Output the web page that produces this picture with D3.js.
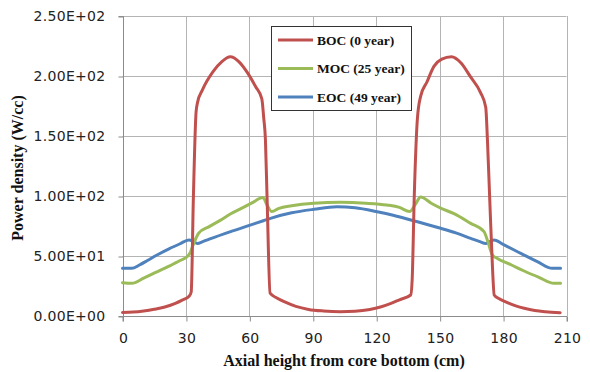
<!DOCTYPE html>
<html>
<head>
<meta charset="utf-8">
<script src="https://cdn.jsdelivr.net/npm/d3@7"></script>
<style>
  html, body { margin: 0; padding: 0; background: #fff; }
  svg { display: block; }
</style>
</head>
<body>
<svg id="chart" width="590" height="372"></svg>
<script>
// ---- Data ----
const xTicks = [0, 30, 60, 90, 120, 150, 180, 210];
const yTicks = [0, 50, 100, 150, 200, 250];
const yTickLabels = ["0.00E+00", "5.00E+01", "1.00E+02", "1.50E+02", "2.00E+02", "2.50E+02"];
const seriesNames = ["BOC (0 year)", "MOC (25 year)", "EOC (49 year)"];

const bocHeight = [0, 5, 10, 15, 20, 25, 28, 31.5, 32.5, 33.5, 34.8, 35.5, 37.7, 43, 47, 51, 55, 59, 63, 65.9, 66.8, 67.6, 68.4, 69.8, 73, 77, 82, 88, 95, 103, 110, 117, 122, 127, 131, 136.3, 137, 138, 139.5, 141, 144, 147.3, 151, 155.6, 160, 164.7, 169.4, 171.8, 172.6, 173.7, 175, 175.8, 178, 181, 186, 190, 195, 200, 207];
const bocPower  = [3, 3.3, 4.2, 5.6, 7.5, 10.5, 13, 16.5, 20, 97, 170, 178, 188, 204, 212, 216, 212, 203, 191, 181, 165, 147, 97, 19, 15, 11.5, 8, 5.5, 4.2, 3.6, 4, 5.5, 7.5, 10.5, 13.5, 17.5, 30, 100, 165, 183, 195, 208, 214, 216, 211, 199, 186, 174, 147, 97, 40, 17.5, 14.5, 12, 8.5, 6.4, 4.5, 3.5, 2.8];

const mocHeight = [0, 4.4, 10, 16, 22, 27, 30.9, 32.2, 33.4, 34.8, 36, 41, 46, 51, 56, 61, 66.4, 68.5, 70.6, 74, 80, 90.5, 103, 115, 125, 131, 135.8, 138.5, 141, 146, 151, 156.8, 164.7, 171, 172.8, 175, 177.3, 184, 190, 197, 204.1, 207.2];
const mocPower  = [27.8, 27.2, 31.5, 36.5, 41.5, 46, 50, 53.5, 59.2, 65, 69, 74.5, 79.5, 85, 89.5, 94, 98.7, 92, 87, 89.7, 91.8, 93.9, 94.7, 94, 92.5, 90.5, 87, 93, 99.2, 94, 89.5, 85.3, 77.2, 70.3, 62, 50.8, 48, 42.5, 37.5, 32.2, 27.2, 27.2];

const eocHeight = [0, 4.4, 8, 12, 17, 22, 27, 31.4, 33.4, 35.4, 38, 41, 51.1, 60, 66.6, 70, 80, 90.6, 101.4, 110, 120.5, 128, 137.6, 150.5, 158, 164.7, 169, 171.8, 173.8, 175.7, 180.5, 188.4, 196.2, 203.3, 207.2];
const eocPower  = [39.7, 39.7, 42.5, 46.5, 51.5, 56, 60, 63.3, 62.3, 60.5, 62, 64, 70.3, 75.5, 79.4, 81.4, 86, 88.9, 91, 90.2, 86.9, 84, 79.4, 73.1, 69, 64.7, 62, 60.5, 62, 63.3, 59.2, 52.2, 45.3, 39.7, 39.7];

const colors = ["#C0504D", "#9BBB59", "#4F81BD"];

// ---- Layout ----
const svg = d3.select("#chart");
const pLeft = 122.5, pRight = 566.5, pTop = 16, pBottom = 316;

const x = d3.scaleLinear().domain([0, 210]).range([pLeft, pRight]);
const y = d3.scaleLinear().domain([0, 250]).range([pBottom, pTop]);

const gridColor = "#B4B4B4";
const tickFont = "DejaVu Sans, sans-serif";

// horizontal gridlines
svg.append("g").selectAll("line").data(yTicks.filter(d => d > 0)).join("line")
  .attr("x1", pLeft).attr("x2", pRight)
  .attr("y1", d => Math.round(y(d)) + 0.5).attr("y2", d => Math.round(y(d)) + 0.5)
  .attr("stroke", gridColor).attr("stroke-width", 1);

// vertical gridlines
svg.append("g").selectAll("line").data(xTicks.filter(d => d > 0)).join("line")
  .attr("x1", d => Math.round(x(d)) + 0.5).attr("x2", d => Math.round(x(d)) + 0.5)
  .attr("y1", pTop).attr("y2", pBottom)
  .attr("stroke", gridColor).attr("stroke-width", 1);

// axes
const yAxis = d3.axisLeft(y).tickValues(yTicks).tickSize(5).tickPadding(13)
  .tickFormat((d, i) => yTickLabels[i]);
const gy = svg.append("g").attr("transform", `translate(${Math.round(pLeft) + 0.5},0.5)`).call(yAxis);
gy.select(".domain").attr("stroke", "#8C8C8C").attr("d", `M-5,${pTop}H0V${pBottom}H-5`);
gy.selectAll(".tick line").attr("stroke", "#8C8C8C");
gy.selectAll("text").attr("font-family", tickFont).attr("font-size", "14px")
  .attr("letter-spacing", "0.3px").attr("fill", "#222");

const xAxis = d3.axisBottom(x).tickValues(xTicks).tickSize(5).tickPadding(12);
const gx = svg.append("g").attr("transform", `translate(0.5,${Math.round(pBottom) + 0.5})`).call(xAxis);
gx.select(".domain").attr("stroke", "#8C8C8C").attr("d", `M${pLeft},5V0H${pRight}V5`);
gx.selectAll(".tick line").attr("stroke", "#8C8C8C");
gx.selectAll("text").attr("font-family", tickFont).attr("font-size", "14px")
  .attr("letter-spacing", "0.3px").attr("fill", "#222");

// series lines
const line = d3.line().x(d => x(d[0])).y(d => y(d[1])).curve(d3.curveMonotoneX);
const series = [
  d3.zip(bocHeight, bocPower),
  d3.zip(mocHeight, mocPower),
  d3.zip(eocHeight, eocPower)
];
[2, 1, 0].forEach(i => {
  svg.append("path").datum(series[i])
    .attr("d", line)
    .attr("fill", "none")
    .attr("stroke", colors[i])
    .attr("stroke-width", 3)
    .attr("stroke-linejoin", "round")
    .attr("stroke-linecap", "round");
});

// axis titles
svg.append("text")
  .attr("x", 344).attr("y", 366)
  .attr("text-anchor", "middle")
  .attr("font-family", "Liberation Serif, Times New Roman, serif")
  .attr("font-weight", "bold").attr("font-size", "16px").attr("fill", "#111")
  .text("Axial height from core bottom (cm)");

svg.append("text")
  .attr("transform", `translate(23,${(pTop + pBottom) / 2 + 2}) rotate(-90)`)
  .attr("text-anchor", "middle")
  .attr("font-family", "Liberation Serif, Times New Roman, serif")
  .attr("font-weight", "bold").attr("font-size", "16px").attr("fill", "#111")
  .text("Power density (W/cc)");

// legend
const lg = svg.append("g");
lg.append("rect").attr("x", 271.5).attr("y", 26.5).attr("width", 140).attr("height", 84)
  .attr("fill", "#fff").attr("stroke", "#333").attr("stroke-width", 1);
seriesNames.forEach((name, i) => {
  const yy = 40 + i * 28.5;
  lg.append("line").attr("x1", 278).attr("x2", 313).attr("y1", yy).attr("y2", yy)
    .attr("stroke", colors[i]).attr("stroke-width", 3);
  lg.append("text").attr("x", 317).attr("y", yy + 4.5)
    .attr("font-family", "Liberation Serif, Times New Roman, serif")
    .attr("font-weight", "bold").attr("font-size", "13.5px").attr("fill", "#111")
    .text(name);
});
</script>
</body>
</html>
